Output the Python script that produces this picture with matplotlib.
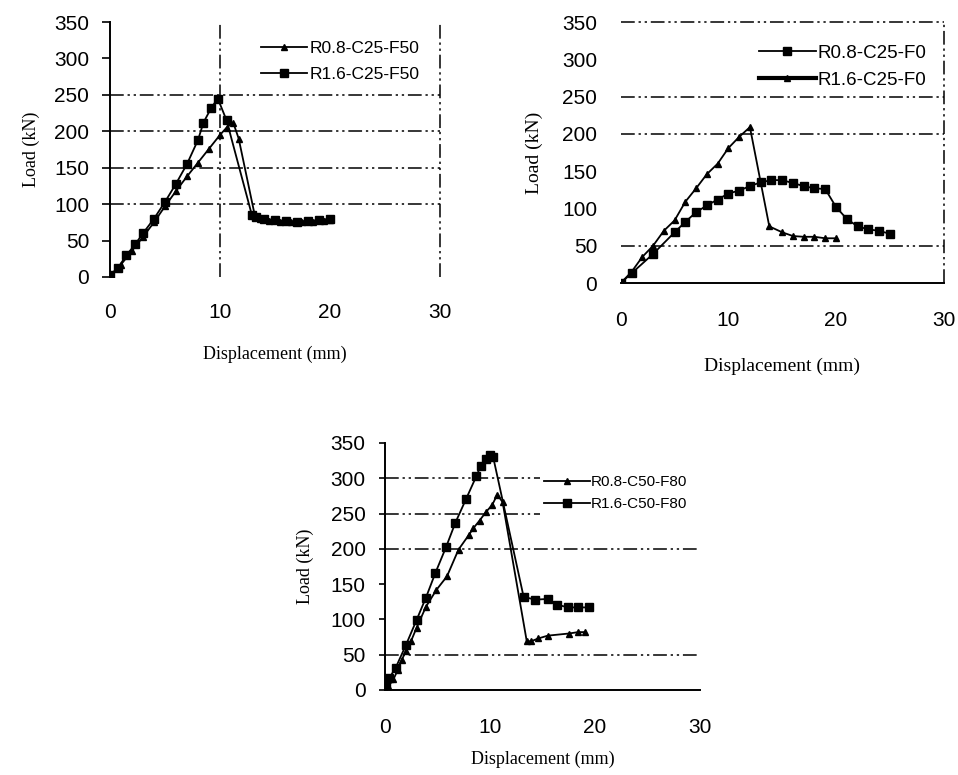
import matplotlib
matplotlib.use("Agg")
import matplotlib.pyplot as plt
from matplotlib.lines import Line2D

# ---------------- data ----------------
# Top-left panel
tl_labels = ["R0.8-C25-F50", "R1.6-C25-F50"]
tl_a_x = [0, 1, 2, 3, 4, 5, 6, 7, 8, 9, 10, 10.6, 11.2, 11.7, 13.2, 13.6, 14.5, 15.5, 16.5, 17.5, 18.5, 19.5, 20]
tl_a_y = [0, 17, 36, 55, 75, 97, 118, 138, 157, 176, 195, 205, 212, 190, 82, 79, 77, 75, 75, 75, 75, 77, 78]
tl_b_x = [0, 0.7, 1.5, 2.3, 3, 4, 5, 6, 7, 8, 8.5, 9.2, 9.8, 10.6, 12.9, 13.3, 14, 15, 16, 17, 18, 19, 20]
tl_b_y = [3, 12, 30, 45, 60, 80, 103, 128, 155, 188, 212, 232, 245, 215, 85, 82, 80, 78, 77, 76, 77, 78, 80]

# Top-right panel
tr_labels = ["R0.8-C25-F0", "R1.6-C25-F0"]
tr_a_x = [0, 1, 3, 5, 6, 7, 8, 9, 10, 11, 12, 13, 14, 15, 16, 17, 18, 19, 20, 21, 22, 23, 24, 25]
tr_a_y = [0, 13, 39, 68, 82, 95, 104, 112, 120, 124, 130, 135, 138, 138, 134, 130, 127, 126, 102, 86, 76, 72, 70, 66]
tr_b_x = [0, 1, 2, 3, 4, 5, 6, 7, 8, 9, 10, 11, 12, 13.8, 15, 16, 17, 18, 19, 20]
tr_b_y = [0, 15, 35, 50, 70, 84, 109, 127, 146, 160, 181, 196, 209, 76, 68, 63, 62, 62, 60, 60]

# Bottom panel
bt_labels = ["R0.8-C50-F80", "R1.6-C50-F80"]
bt_a_x = [0, 0.3, 0.8, 1.2, 1.6, 2, 2.5, 3, 3.9, 4.9, 5.9, 7, 8, 8.4, 9, 9.6, 10.2, 10.7, 11.2, 13.5, 13.9, 14.6, 15.5, 17.5, 18.4, 19]
bt_a_y = [0, 5, 15, 28, 43, 55, 70, 88, 118, 142, 161, 199, 220, 229, 240, 252, 262, 277, 266, 69, 69, 73, 77, 80, 82, 82]
bt_b_x = [0.1, 0.4, 1, 2, 3, 3.9, 4.8, 5.8, 6.7, 7.7, 8.7, 9.1, 9.6, 10, 10.3, 13.2, 14.3, 15.5, 16.4, 17.4, 18.4, 19.4]
bt_b_y = [9, 17, 31, 64, 99, 131, 166, 202, 237, 270, 303, 317, 328, 333, 330, 132, 128, 129, 121, 117, 117, 117]

x_ticks = [0, 10, 20, 30]
y_ticks = [0, 50, 100, 150, 200, 250, 300, 350]

# ---------------- style ----------------
plt.rcParams["font.family"] = ["Liberation Sans", "DejaVu Sans"]
DASH = (0, (9, 2.5, 1.5, 2.5, 1.5, 2.5))
TICKFS = 15
LABFS = 13

fig = plt.figure(figsize=(9.58, 7.75), dpi=100)


def setup(ax, ypad, xpad):
    ax.set_xlim(0, 30)
    ax.set_ylim(0, 350)
    ax.set_xticks(x_ticks)
    ax.set_yticks(y_ticks)
    ax.tick_params(axis="x", length=0, pad=xpad, labelsize=TICKFS)
    ax.tick_params(axis="y", length=6, width=1.2, direction="out", pad=ypad, labelsize=TICKFS)
    for s in ax.spines.values():
        s.set_visible(False)
    ax.set_facecolor("none")


def hgrid(ax, vals, x0=0, x1=30):
    for v in vals:
        ax.plot([x0, x1], [v, v], color="black", lw=1.1, linestyle=DASH, zorder=1, clip_on=False)


def vgrid(ax, vals):
    for v in vals:
        ax.plot([v, v], [0, 350], color="black", lw=1.1, linestyle=DASH, zorder=1, clip_on=False)


# ---- top-left ----
ax1 = fig.add_axes([0.1148, 0.6426, 0.3445, 0.329])
setup(ax1, ypad=9, xpad=19)
ax1.spines["left"].set_visible(True)
ax1.spines["left"].set_linewidth(1.4)
hgrid(ax1, [100, 150, 200, 250])
vgrid(ax1, [10, 30])
ax1.plot(tl_a_x, tl_a_y, color="black", lw=1.3, marker="^", ms=4, zorder=3, label=tl_labels[0])
ax1.plot(tl_b_x, tl_b_y, color="black", lw=1.3, marker="s", ms=5.5, zorder=3, label=tl_labels[1])
ax1.set_xlabel("Displacement (mm)", family=["Liberation Serif"], fontsize=LABFS, labelpad=17)
ax1.set_ylabel("Load (kN)", family=["Liberation Serif"], fontsize=LABFS, labelpad=10)
ax1.legend(loc="upper left", bbox_to_anchor=(0.43, 0.96), frameon=False, fontsize=12.5,
           handlelength=2.7, handletextpad=0.1, labelspacing=0.6, borderpad=0)

# ---- top-right ----
ax2 = fig.add_axes([0.648, 0.6348, 0.337, 0.3368])
setup(ax2, ypad=17, xpad=20)
ax2.tick_params(axis="y", length=0)
ax2.spines["bottom"].set_visible(True)
ax2.spines["bottom"].set_linewidth(1.4)
hgrid(ax2, [50, 200, 250, 350])
vgrid(ax2, [30])
ax2.plot(tr_a_x, tr_a_y, color="black", lw=1.3, marker="s", ms=5.5, zorder=3)
ax2.plot(tr_b_x, tr_b_y, color="black", lw=1.3, marker="^", ms=4, zorder=3)
ax2.set_xlabel("Displacement (mm)", family=["Liberation Serif"], fontsize=LABFS + 1, labelpad=20)
ax2.set_ylabel("Load (kN)", family=["Liberation Serif"], fontsize=LABFS + 1, labelpad=14)
h2 = [Line2D([], [], color="black", lw=1.3, marker="s", ms=5.5),
      Line2D([], [], color="black", lw=3.0, marker="^", ms=4)]
ax2.legend(h2, tr_labels, loc="upper left", bbox_to_anchor=(0.40, 0.95), frameon=False, fontsize=13.5,
           handlelength=3.0, handletextpad=0.1, labelspacing=0.55, borderpad=0)

# ---- bottom ----
ax3 = fig.add_axes([0.4019, 0.1097, 0.3288, 0.3187])
setup(ax3, ypad=10, xpad=20)
ax3.tick_params(axis="y", length=4)
ax3.spines["left"].set_visible(True)
ax3.spines["bottom"].set_visible(True)
ax3.spines["left"].set_linewidth(1.4)
ax3.spines["bottom"].set_linewidth(1.4)
hgrid(ax3, [50, 200])
hgrid(ax3, [250, 300], 0, 14.8)
ax3.plot(bt_a_x, bt_a_y, color="black", lw=1.3, marker="^", ms=4.5, zorder=3)
ax3.plot(bt_b_x, bt_b_y, color="black", lw=1.3, marker="s", ms=6, zorder=3)
ax3.set_xlabel("Displacement (mm)", family=["Liberation Serif"], fontsize=LABFS, labelpad=10)
ax3.set_ylabel("Load (kN)", family=["Liberation Serif"], fontsize=LABFS, labelpad=12)
h3 = [Line2D([], [], color="black", lw=1.3, marker="^", ms=5),
      Line2D([], [], color="black", lw=1.3, marker="s", ms=6)]
ax3.legend(h3, bt_labels, loc="upper left", bbox_to_anchor=(0.48, 0.90), frameon=False, fontsize=11,
           handlelength=3.0, handletextpad=0.1, labelspacing=0.5, borderpad=0)

fig.savefig("out.png", dpi=100)
